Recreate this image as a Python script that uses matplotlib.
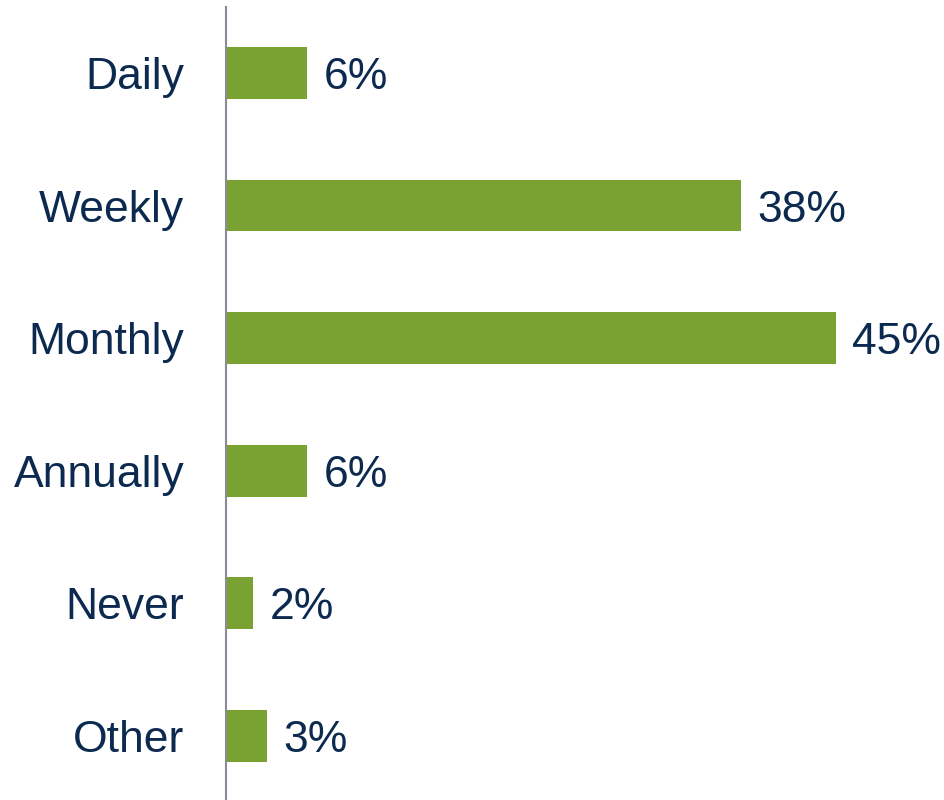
import matplotlib.pyplot as plt

categories = ['Daily', 'Weekly', 'Monthly', 'Annually', 'Never', 'Other']
values = [6, 38, 45, 6, 2, 3]
labels = ['6%', '38%', '45%', '6%', '2%', '3%']

bar_color = '#7AA232'
text_color = '#0C2A4F'

plt.rcParams['font.family'] = ['Liberation Sans', 'DejaVu Sans']

fig = plt.figure(figsize=(9.44, 8), dpi=100)
ax = fig.add_axes([226 / 944, -2.2 / 800, 1 - 226 / 944, 795.6 / 800])

y = list(range(len(categories)))
bars = ax.barh(y, values, height=0.39, color=bar_color)

# value labels right of each bar
for rect, lab in zip(bars, labels):
    ax.text(rect.get_width() + 1.2, rect.get_y() + rect.get_height() / 2, lab,
            va='center_baseline', ha='left', fontsize=32, color=text_color)

ax.set_yticks(y)
ax.set_yticklabels(categories, fontsize=32, color=text_color)
ax.tick_params(axis='y', length=0, pad=30)
ax.set_ylim(len(categories) - 0.5, -0.5)
ax.set_xlim(0, 53)
ax.set_xticks([])

for side in ['top', 'right', 'bottom']:
    ax.spines[side].set_visible(False)
ax.spines['left'].set_color('#8A8A99')
ax.spines['left'].set_linewidth(1.5)

fig.savefig('out.png', dpi=100)
